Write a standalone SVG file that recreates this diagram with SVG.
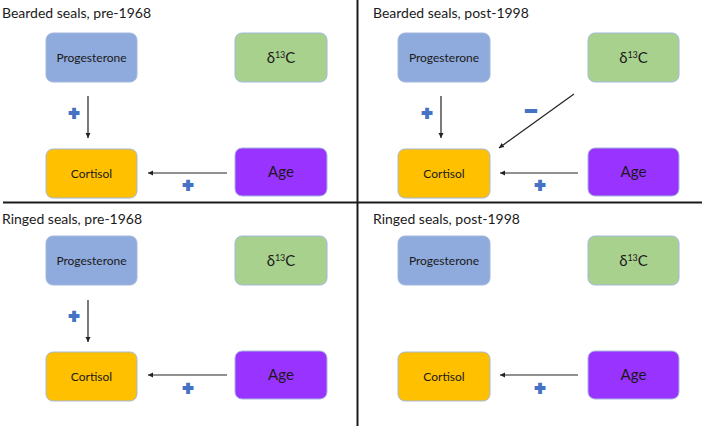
<svg xmlns="http://www.w3.org/2000/svg" width="702" height="426" viewBox="0 0 702 426">
  <style>
    .title { font-family: Lato, "Liberation Sans", sans-serif; font-size: 14px; fill: #1a1a1a; }
    .lbl { font-family: Lato, "Liberation Sans", sans-serif; font-size: 12px; fill: #1a1a1a; text-anchor: middle; }
    .big { font-family: Lato, "Liberation Sans", sans-serif; font-size: 15px; fill: #1a1a1a; text-anchor: middle; }
    .prog { fill: #8faadc; stroke: #a3b8dc; stroke-width: 1; }
    .d13c { fill: #a9d18e; stroke: #a3b8dc; stroke-width: 1; }
    .cort { fill: #ffc000; stroke: #a3b8dc; stroke-width: 1; }
    .age { fill: #9933ff; stroke: #a3b8dc; stroke-width: 1; }
    .conn { stroke: #222; stroke-width: 1.2; fill: none; marker-end: url(#ah); }
    .sign { font-family: "Liberation Sans", sans-serif; font-weight: bold; fill: #4472c4; stroke: #4472c4; stroke-width: 1.8; text-anchor: middle; }
    .div { stroke: #1a1a1a; stroke-width: 2; }
  </style>
  <defs>
    <marker id="ah" markerUnits="userSpaceOnUse" markerWidth="6" markerHeight="6" refX="5" refY="3" orient="auto">
      <path d="M0,0.5 L5,3 L0,5.5 z" fill="#222"/>
    </marker>
  </defs>
  <rect width="702" height="426" fill="#ffffff"/>

  <g id="dividers">
    <line class="div" x1="3" y1="202.5" x2="702" y2="202.5"/>
    <line class="div" x1="357.5" y1="0" x2="357.5" y2="426"/>
  </g>

  <!-- Panel 1 -->
  <g id="panel1">
    <text class="title" x="2" y="18">Bearded seals, pre-1968</text>
    <g id="p1-progesterone"><rect class="prog" x="46" y="33" width="91" height="49" rx="7"/><text class="lbl" x="91.5" y="62">Progesterone</text></g>
    <g id="p1-d13c"><rect class="d13c" x="235" y="33" width="92" height="49" rx="7"/><text class="big" x="281" y="63">δ<tspan font-size="9px" dy="-5">13</tspan><tspan dy="5">C</tspan></text></g>
    <g id="p1-cortisol"><rect class="cort" x="46" y="149" width="91" height="49" rx="7"/><text class="lbl" x="91.5" y="178">Cortisol</text></g>
    <g id="p1-age"><rect class="age" x="235" y="148" width="92" height="48" rx="7"/><text class="big" x="281" y="177">Age</text></g>
    <g id="p1-connectors">
      <line class="conn" x1="88" y1="96" x2="88" y2="138"/>
      <line class="conn" x1="227" y1="173" x2="148" y2="173"/>
      <text class="sign" x="74" y="119" font-size="18">+</text>
      <text class="sign" x="188" y="191" font-size="18">+</text>
    </g>
  </g>

  <!-- Panel 2 -->
  <g id="panel2">
    <text class="title" x="373" y="18">Bearded seals, post-1998</text>
    <g id="p2-progesterone"><rect class="prog" x="398" y="33" width="92" height="49" rx="7"/><text class="lbl" x="444" y="62">Progesterone</text></g>
    <g id="p2-d13c"><rect class="d13c" x="588" y="33" width="91" height="49" rx="7"/><text class="big" x="633.5" y="63">δ<tspan font-size="9px" dy="-5">13</tspan><tspan dy="5">C</tspan></text></g>
    <g id="p2-cortisol"><rect class="cort" x="398" y="149" width="92" height="49" rx="7"/><text class="lbl" x="444" y="178">Cortisol</text></g>
    <g id="p2-age"><rect class="age" x="588" y="148" width="91" height="48" rx="7"/><text class="big" x="633.5" y="177">Age</text></g>
    <g id="p2-connectors">
      <line class="conn" x1="441" y1="96" x2="441" y2="138"/>
      <line class="conn" x1="574" y1="94" x2="499" y2="148"/>
      <line class="conn" x1="578" y1="173" x2="500" y2="173"/>
      <text class="sign" x="427" y="119" font-size="18">+</text>
      <text class="sign" x="531" y="118" font-size="21">−</text>
      <text class="sign" x="540" y="191" font-size="18">+</text>
    </g>
  </g>

  <!-- Panel 3 -->
  <g id="panel3">
    <text class="title" x="2" y="224">Ringed seals, pre-1968</text>
    <g id="p3-progesterone"><rect class="prog" x="46" y="236" width="91" height="49" rx="7"/><text class="lbl" x="91.5" y="265">Progesterone</text></g>
    <g id="p3-d13c"><rect class="d13c" x="235" y="236" width="92" height="49" rx="7"/><text class="big" x="281" y="266">δ<tspan font-size="9px" dy="-5">13</tspan><tspan dy="5">C</tspan></text></g>
    <g id="p3-cortisol"><rect class="cort" x="46" y="352" width="91" height="49" rx="7"/><text class="lbl" x="91.5" y="381">Cortisol</text></g>
    <g id="p3-age"><rect class="age" x="235" y="351" width="92" height="48" rx="7"/><text class="big" x="281" y="380">Age</text></g>
    <g id="p3-connectors">
      <line class="conn" x1="88" y1="300" x2="88" y2="342"/>
      <line class="conn" x1="227" y1="375" x2="148" y2="375"/>
      <text class="sign" x="74" y="322" font-size="18">+</text>
      <text class="sign" x="188" y="394" font-size="18">+</text>
    </g>
  </g>

  <!-- Panel 4 -->
  <g id="panel4">
    <text class="title" x="373" y="224">Ringed seals, post-1998</text>
    <g id="p4-progesterone"><rect class="prog" x="398" y="236" width="92" height="49" rx="7"/><text class="lbl" x="444" y="265">Progesterone</text></g>
    <g id="p4-d13c"><rect class="d13c" x="588" y="236" width="91" height="49" rx="7"/><text class="big" x="633.5" y="266">δ<tspan font-size="9px" dy="-5">13</tspan><tspan dy="5">C</tspan></text></g>
    <g id="p4-cortisol"><rect class="cort" x="398" y="352" width="92" height="49" rx="7"/><text class="lbl" x="444" y="381">Cortisol</text></g>
    <g id="p4-age"><rect class="age" x="588" y="351" width="91" height="48" rx="7"/><text class="big" x="633.5" y="380">Age</text></g>
    <g id="p4-connectors">
      <line class="conn" x1="578" y1="375" x2="500" y2="375"/>
      <text class="sign" x="540" y="394" font-size="18">+</text>
    </g>
  </g>
</svg>
